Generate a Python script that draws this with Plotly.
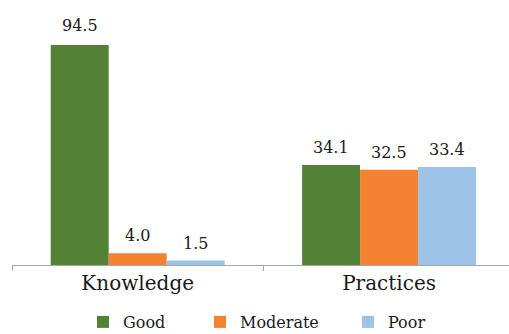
import plotly.graph_objects as go

categories = ["Knowledge", "Practices"]
series_names = ["Good", "Moderate", "Poor"]
good = [94.5, 34.1]
moderate = [4.0, 32.5]
poor = [1.5, 33.4]
series_values = [good, moderate, poor]
colors = ["#538135", "#F58232", "#9DC3E6"]

Y_MAX = 75
BARGAP = 0.308
FONT = "DejaVu Serif"

fig = go.Figure()
legend_ids = ["legend", "legend2", "legend3"]
legend_text_x = [123, 240, 388]  # px of legend text start

n = len(series_names)
w = (1 - BARGAP) / n
annotations = []
for i, (name, vals, col) in enumerate(zip(series_names, series_values, colors)):
    fig.add_trace(go.Bar(
        x=categories, y=vals, name=name,
        marker=dict(color=col, line=dict(width=0)),
        legend=legend_ids[i],
    ))
    off = (i - (n - 1) / 2) * w
    for ci, v in enumerate(vals):
        clipped = v > Y_MAX
        annotations.append(dict(
            x=ci + off, y=min(v, Y_MAX), xref="x", yref="y",
            text=f"{v:.1f}", showarrow=False, yanchor="bottom",
            yshift=8 if clipped else 6,
            font=dict(family=FONT, size=16, color="#1a1a1a"),
        ))

W, H = 509, 334
layout_legends = {}
for i, lid in enumerate(legend_ids):
    layout_legends[lid] = dict(
        x=(legend_text_x[i] - 40) / W, xref="container", xanchor="left",
        y=(H - 322) / H, yref="container", yanchor="middle",
        orientation="h", bgcolor="rgba(0,0,0,0)", borderwidth=0,
        font=dict(family=FONT, size=16, color="#1a1a1a"),
    )

fig.update_layout(
    width=W, height=H,
    margin=dict(l=12, r=0, t=45, b=69, pad=0),
    barmode="group", bargap=BARGAP, bargroupgap=0,
    plot_bgcolor="white", paper_bgcolor="white",
    showlegend=True,
    annotations=annotations,
    font=dict(family=FONT, color="#1a1a1a"),
    **layout_legends,
)
fig.update_xaxes(
    type="category", range=[-0.5, 1.477],
    showline=True, linecolor="#a6a6a6", linewidth=1,
    ticks="outside", tickson="boundaries", ticklen=5, tickcolor="#a6a6a6", tickwidth=1,
    showgrid=False, zeroline=False,
    tickfont=dict(family=FONT, size=20, color="#1a1a1a"),
)
fig.update_yaxes(range=[0, Y_MAX], visible=False, showgrid=False, zeroline=False)

fig.write_html("out.html")
